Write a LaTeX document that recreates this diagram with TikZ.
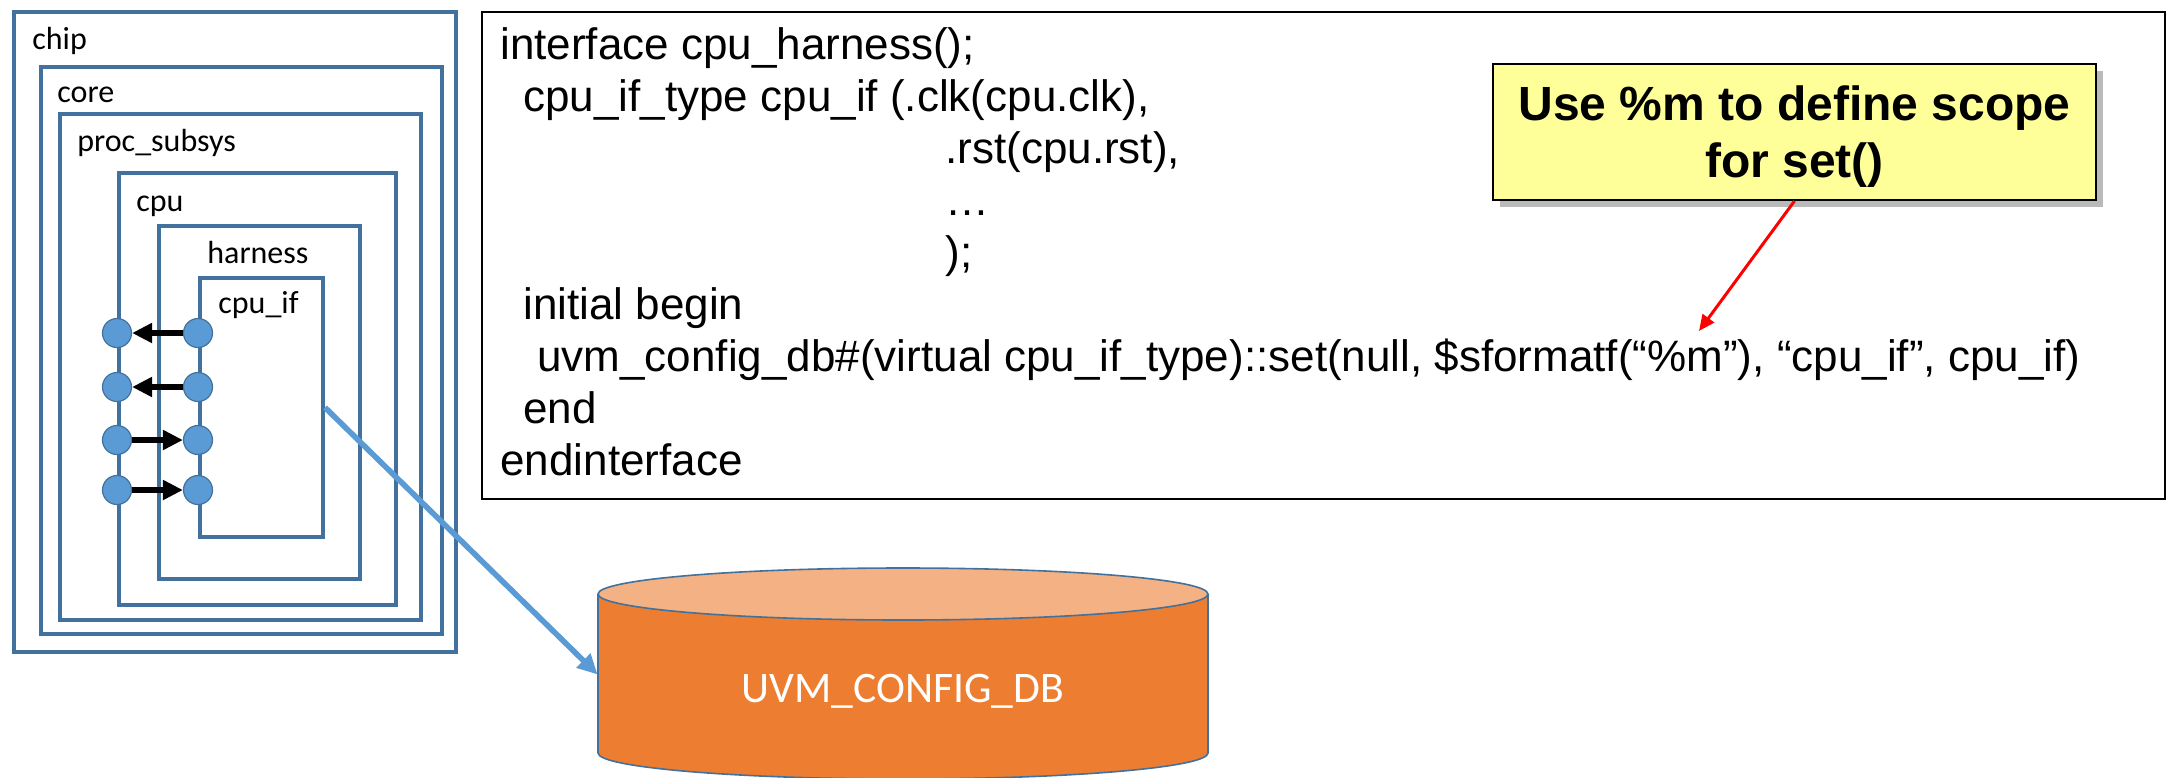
\documentclass[tikz,border=0pt]{standalone}
\usepackage{fontspec}
\setmainfont{Liberation Sans}
\newfontfamily\calibri{Carlito}
\usetikzlibrary{arrows.meta,shadows,calc}
\definecolor{boxblue}{HTML}{41719C}
\definecolor{dotblue}{HTML}{5B9BD5}
\definecolor{dborange}{HTML}{ED7D31}
\definecolor{dbtop}{HTML}{F4B183}
\definecolor{noteyellow}{HTML}{FFFF99}
\begin{document}
\begin{tikzpicture}[x=0.5pt,y=-0.5pt,
  blk/.style={draw=boxblue, line width=2pt, fill=white, anchor=north west, inner sep=0pt},
  lbl/.style={font=\calibri\fontsize{16}{19}\selectfont, anchor=base west, inner sep=0pt},
  port/.style={circle, draw=boxblue, line width=0.6pt, fill=dotblue, minimum size=14.5pt, inner sep=0pt},
  sig/.style={line width=3pt, -{Triangle[length=10pt,width=9.5pt]}},
  code/.style={font=\fontsize{22}{26}\selectfont, anchor=base west, inner sep=0pt},
]
\useasboundingbox (0,0) rectangle (2167,777);

% nested blocks
\node[blk, minimum width=221pt, minimum height=320pt] (chip) at (12,10) {};
\node[lbl] (chipl) at (32,49) {chip};
\node[blk, minimum width=200.5pt, minimum height=283.5pt] (core) at (39,65) {};
\node[lbl] (corel) at (57,102) {core};
\node[blk, minimum width=180.5pt, minimum height=253pt] (proc) at (58,112) {};
\node[lbl] (procl) at (77,151) {proc\_subsys};
\node[blk, minimum width=138.5pt, minimum height=216pt] (cpu) at (117,171) {};
\node[lbl] (cpul) at (136,211) {cpu};
\node[blk, minimum width=100.5pt, minimum height=176.5pt] (harness) at (157,224) {};
\node[lbl] (harnessl) at (207,263) {harness};
\node[blk, minimum width=61.5pt, minimum height=129.5pt] (cpuif) at (198,276) {};
\node[lbl] (cpuifl) at (218,313) {cpu\_if};

% ports
\foreach \i/\y in {1/333,2/387,3/440,4/490}{
  \node[port] (pl\i) at (117,\y) {};
  \node[port] (pr\i) at (198,\y) {};
}
\draw[sig] (pr1) -- (pl1);
\draw[sig] (pr2) -- (pl2);
\draw[sig] (pl3) -- (pr3);
\draw[sig] (pl4) -- (pr4);

% database cylinder
\fill[dborange] (598,594) -- (598,753) arc[start angle=180,end angle=360,x radius=152.5pt,y radius=13pt] -- (1208,594) -- cycle;
\draw[boxblue, line width=0.8pt] (598,594) -- (598,753) arc[start angle=180,end angle=360,x radius=152.5pt,y radius=13pt] -- (1208,594);
\draw[boxblue, line width=0.8pt, fill=dbtop] (903,594) ellipse [x radius=152.5pt, y radius=13pt];
\node[inner sep=0pt, minimum width=305pt, minimum height=79.5pt] (db) at (903,674.5) {};
\node[inner sep=0pt, anchor=base, text=white, font=\calibri\fontsize{21.8}{26}\selectfont] (dbl) at (903,702) {UVM\_CONFIG\_DB};

\draw[dotblue, line width=2.8pt, -{Triangle[length=10pt,width=9.5pt]}] (cpuif.east) -- (db.west);

% code box
\node[draw=black, line width=1.2pt, anchor=north west, minimum width=841.5pt, minimum height=243.5pt, inner sep=0pt] (codebox) at (481,11) {};
\node[code] (c1) at (500,59) {interface cpu\_harness();};
\node[code] (c2) at (523,111) {cpu\_if\_type cpu\_if (.clk(cpu.clk),};
\node[code] (c3) at (945,163) {.rst(cpu.rst),};
\node[code] (c4) at (945,215) {…};
\node[code] (c5) at (945,267) {);};
\node[code] (c6) at (523,319) {initial begin};
\node[code] (c7) at (537,371) {uvm\_config\_db\#(virtual cpu\_if\_type)::set(null, \$sformatf(“\%m”), “cpu\_if”, cpu\_if)};
\node[code] (c8) at (523,423) {end};
\node[code] (c9) at (500,475) {endinterface};

% callout
\node[draw=black, line width=1pt, fill=noteyellow,
      drop shadow={shadow xshift=3.5pt, shadow yshift=-3.5pt, fill=black!60, opacity=0.45},
      minimum width=301.5pt, minimum height=68pt, anchor=north west, align=center,
      font=\bfseries\fontsize{24}{28.5}\selectfont, inner sep=0pt] (note) at (1492,63)
      {\rule{0pt}{22.3pt}Use \%m to define scope\\for set()};
\coordinate (tip) at (1699,331);
\draw[red, line width=1.5pt, -{Triangle[length=8pt,width=7pt]}] (note.south) -- (tip);
\end{tikzpicture}
\end{document}
